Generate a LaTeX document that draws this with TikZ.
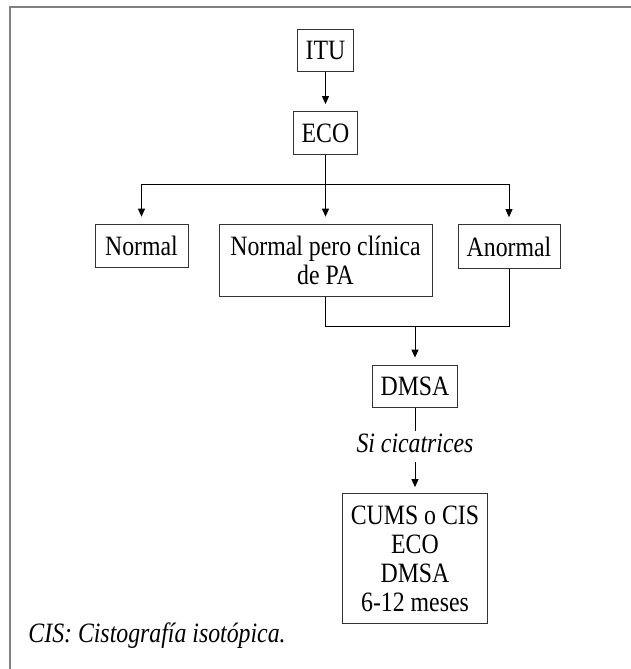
\documentclass[tikz,border=0pt]{standalone}
\usepackage{fontspec}
\setmainfont{Liberation Serif}[FakeStretch=0.85]
\usepackage{xcolor}
\usepackage{tikz}
\usetikzlibrary{positioning, arrows.meta, shapes}

\begin{document}
\begin{tikzpicture}[x=1pt, y=-1pt,
    box/.style={draw=black!80, line width=1pt, align=center, inner xsep=8pt, inner ysep=12pt,
                font=\fontsize{28}{29}\selectfont},
    arr/.style={-{Triangle[length=8pt, width=7pt]}, shorten >=7pt},
    every path/.style={line width=0.9pt}]
            % frame of the figure
            \useasboundingbox (0,0) rectangle (631,669);
            \draw[gray, line width=2pt] (631,7) -- (9.5,7) -- (9.5,669);

            % boxes
            \node[box] (itu) at (325.5,50.5) {ITU};
            \node[box] (eco) at (325.5,133) {ECO};
            \node[box, minimum width=93pt] (normal) at (141.5,246) {Normal};
            \node[box, minimum width=213pt] (clinica) at (325.5,260.5) {Normal pero clínica\\de PA};
            \node[box, minimum width=102pt] (anormal) at (509,246.5) {Anormal};
            \node[box] (dmsa) at (415,386.5) {DMSA};
            \node[anchor=base, inner sep=3pt, text height=18pt, text depth=7pt,
                  font=\fontsize{28}{29}\selectfont\itshape] (cicatriz) at (415,452) {Si cicatrices};
            \node[box, minimum width=144pt] (cums) at (415,558.5) {CUMS o CIS\\ECO\\DMSA\\6-12 meses};
            \node[anchor=base west, inner sep=0pt, font=\fontsize{28}{29}\selectfont\itshape]
                  (nota) at (28,642) {CIS: Cistografía isotópica.};

            \coordinate (split) at (325.5,184);
            \coordinate (join) at (415,326);

            % connectors
            \draw[arr] (itu) -- (eco);
            \draw (eco.south) -- (split);
            \draw[arr] (split) -| (normal.north);
            \draw[arr] (split) -- (clinica.north);
            \draw[arr] (split) -| (anormal.north);
            \draw (clinica.south) |- (anormal.south |- join) -- (anormal.south);
            \draw[arr] (join) -- (dmsa.north);
            \draw (dmsa.south) -- (cicatriz.north);
            \draw[arr, shorten >=6pt] (cicatriz.south) -- (cums.north);
        \end{tikzpicture}
\end{document}
